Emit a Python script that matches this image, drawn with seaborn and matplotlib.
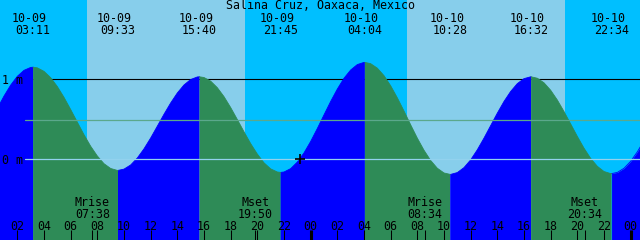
import numpy as np
import pandas as pd
import matplotlib
matplotlib.use("Agg")
import matplotlib.pyplot as plt
import matplotlib.transforms as mtransforms
import seaborn as sns

# ---------------- data ----------------
title = "Salina Cruz, Oaxaca, Mexico"

# tide extremes (labels at the top)
tide_events = ["10-09 03:11", "10-09 09:33", "10-09 15:40", "10-09 21:45",
               "10-10 04:04", "10-10 10:28", "10-10 16:32", "10-10 22:34"]
tide_heights = [1.15, -0.14, 1.03, -0.165, 1.21, -0.19, 1.03, -0.18]

# half-hourly water level (m), hours since 10-09 00:00 (0.0 ... 49.0)
level_t = [i * 0.5 for i in range(99)]
level_h = [0.469, 0.634, 0.789, 0.926, 1.036, 1.111, 1.147, 1.142, 1.098, 1.019,
           0.908, 0.773, 0.621, 0.463, 0.306, 0.162, 0.040, -0.056, -0.116, -0.140,
           -0.124, -0.072, 0.015, 0.130, 0.265, 0.413, 0.562, 0.703, 0.828, 0.928,
           0.996, 1.028, 1.021, 0.976, 0.894, 0.782, 0.646, 0.496, 0.343, 0.195,
           0.064, -0.045, -0.121, -0.160, -0.160, -0.118, -0.036, 0.079, 0.222, 0.384,
           0.554, 0.722, 0.877, 1.012, 1.115, 1.183, 1.210, 1.194, 1.138, 1.044,
           0.918, 0.767, 0.602, 0.430, 0.263, 0.112, -0.016, -0.113, -0.172, -0.190,
           -0.167, -0.105, -0.008, 0.118, 0.264, 0.420, 0.576, 0.722, 0.847, 0.945,
           1.007, 1.030, 1.012, 0.955, 0.862, 0.740, 0.596, 0.441, 0.285, 0.138,
           0.010, -0.089, -0.154, -0.180, -0.165, -0.113, -0.026, 0.092, 0.233]

# moon events (labels at the bottom)
moon_names = ["Mrise", "Mset", "Mrise", "Mset"]
moon_events = ["10-09 07:38", "10-09 19:50", "10-10 08:34", "10-10 20:34"]

# daylight periods
sun_rise = ["10-09 07:12", "10-10 07:12"]
sun_set = ["10-09 19:04", "10-10 19:04"]

# current-time marker
now_event = "10-09 23:12"
now_height = 0.0

# reference lines (m)
level_labels = ["1 m", "0 m"]
level_values = [1.0, 0.0]
mean_level = 0.49

hour_ticks = list(range(2, 49, 2))

# ---------------- helpers ----------------
def to_hours(s):
    date, hm = s.split()
    day = int(date.split("-")[1]) - 9
    h, m = hm.split(":")
    return day * 24 + int(h) + int(m) / 60.0

W, H = 640, 240
T_LEFT = 0.7
T_RIGHT = T_LEFT + 48
Y_BOTTOM = -1.01
Y_TOP = Y_BOTTOM + 3.0

def yf(px_from_top):
    return 1 - px_from_top / H

C_NIGHT = "#00BFFF"
C_DAY = "#87CEEB"
C_RISE = "#0000FF"
C_FALL = "#2E8B57"

sns.set_theme(style="white")
plt.rcParams["font.family"] = ["DejaVu Sans Mono", "DejaVu Sans"]
FS = 8.4

fig = plt.figure(figsize=(6.4, 2.4), dpi=100)
ax = fig.add_axes([0, 0, 1, 1])
ax.set_facecolor(C_NIGHT)
for s in ax.spines.values():
    s.set_visible(False)
ax.set_xticks([])
ax.set_yticks([])
ax.set_xlim(T_LEFT, T_RIGHT)
ax.set_ylim(Y_BOTTOM, Y_TOP)
blend = ax.get_xaxis_transform()

# daylight
for r, s in zip(sun_rise, sun_set):
    ax.axvspan(to_hours(r), to_hours(s), color=C_DAY, lw=0, zorder=0.5)

# 1 m line (behind the water)
ax.axhline(1.0, xmin=25 / W, color="black", lw=0.8, zorder=1)

# build curve table
ext_t = [to_hours(e) for e in tide_events]
df = pd.DataFrame({"t": level_t + ext_t, "h": level_h + tide_heights})
df = df.drop_duplicates("t").sort_values("t").reset_index(drop=True)

bounds = [-np.inf] + ext_t + [np.inf]
rows = []
for i in range(len(bounds) - 1):
    a, b = bounds[i], bounds[i + 1]
    seg = df[(df.t >= a) & (df.t <= b)].copy()
    if i < len(ext_t):
        rising = tide_heights[i] > 0.5
    else:
        rising = tide_heights[-1] < 0.5
    seg["dir"] = "rise" if rising else "fall"
    seg["seg"] = i
    rows.append(seg)
    ax.fill_between(seg.t, seg.h, Y_BOTTOM - 1, color=C_RISE if rising else C_FALL,
                    lw=0, zorder=2)
curve = pd.concat(rows, ignore_index=True)
sns.lineplot(data=curve, x="t", y="h", hue="dir", units="seg", estimator=None,
             palette={"rise": C_RISE, "fall": C_FALL}, legend=False, lw=0.6,
             ax=ax, zorder=2.1, sort=False)
ax.set_xlabel("")
ax.set_ylabel("")
ax.set_xlim(T_LEFT, T_RIGHT)
ax.set_ylim(Y_BOTTOM, Y_TOP)

# mean level and 0 m lines (over the water)
ax.axhline(mean_level, xmin=25 / W, color="#5BA88C", lw=0.9, zorder=3)
ax.axhline(0.0, xmin=25 / W, color="#92D2EE", lw=0.9, zorder=3)

# level labels
for lab, v in zip(level_labels, level_values):
    ypx = 159.3 - v * 80 + 4.2
    ax.text(2 / W, yf(ypx), lab, transform=ax.transAxes, ha="left",
            va="baseline", fontsize=FS, color="black", zorder=5)

# title
ax.text(0.5, yf(9), title, transform=ax.transAxes, ha="center",
        va="baseline", fontsize=FS, color="black", zorder=5)

# tide event labels
date_tr = mtransforms.offset_copy(blend, fig=fig, x=-3.5, y=0, units="dots")
for e in tide_events:
    t = to_hours(e)
    d, hm = e.split()
    ax.text(t, yf(22), d, transform=date_tr, ha="center", va="baseline",
            fontsize=FS, color="black", zorder=5)
    ax.text(t, yf(34), hm, transform=blend, ha="center", va="baseline",
            fontsize=FS, color="black", zorder=5)

# moon event labels and ticks
for name, e in zip(moon_names, moon_events):
    t = to_hours(e)
    ax.text(t, yf(205.5), name, transform=blend, ha="center", va="baseline",
            fontsize=FS, color="black", zorder=5)
    ax.text(t, yf(217.5), e.split()[1], transform=blend, ha="center",
            va="baseline", fontsize=FS, color="black", zorder=5)
    ax.vlines(t, 0, 10 / H, transform=blend, color="black", lw=0.75, zorder=5)

# hour ticks and labels
for hr in hour_ticks:
    lw = 2.2 if hr % 24 == 0 else 0.75
    ax.vlines(hr, 0, 10 / H, transform=blend, color="black", lw=lw, zorder=5)
    ax.text(hr, yf(230), f"{hr % 24:02d}", transform=blend, ha="center",
            va="baseline", fontsize=FS, color="black", zorder=5)

# current time marker
ax.plot([to_hours(now_event)], [now_height], marker="+", ms=6.5, mew=1.2,
        color="black", zorder=6, ls="none")

fig.savefig("out.png", dpi=100)
